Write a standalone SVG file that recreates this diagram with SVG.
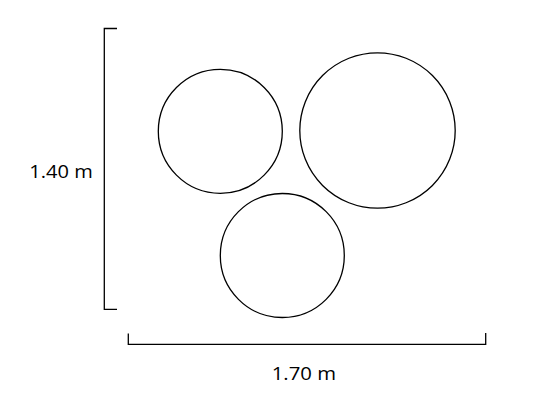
<svg xmlns="http://www.w3.org/2000/svg" width="541" height="400" viewBox="0 0 541 400">
<style>
.c{fill:none;stroke:#000;stroke-width:1.3}
.b{fill:none;stroke:#000;stroke-width:1.3}
.t{font-family:"Open Sans","Liberation Sans",sans-serif;font-size:19px;fill:#000}
</style>
<rect width="541" height="400" fill="#fff"/>
<g id="circle1"><circle class="c" cx="220.3" cy="131.3" r="62"/></g>
<g id="circle2"><circle class="c" cx="377.5" cy="130.5" r="77.7"/></g>
<g id="circle3"><circle class="c" cx="282.3" cy="255.5" r="62"/></g>
<g id="dim-height">
<path class="b" d="M117,28.5 H104.3 V309.3 H117"/>
<text class="t" x="29.3" y="177.7" textLength="63.4" lengthAdjust="spacingAndGlyphs">1.40 m</text>
</g>
<g id="dim-width">
<path class="b" d="M128.3,333.5 V344.3 H485.7 V333"/>
<text class="t" x="271.7" y="380" textLength="64.3" lengthAdjust="spacingAndGlyphs">1.70 m</text>
</g>
</svg>
